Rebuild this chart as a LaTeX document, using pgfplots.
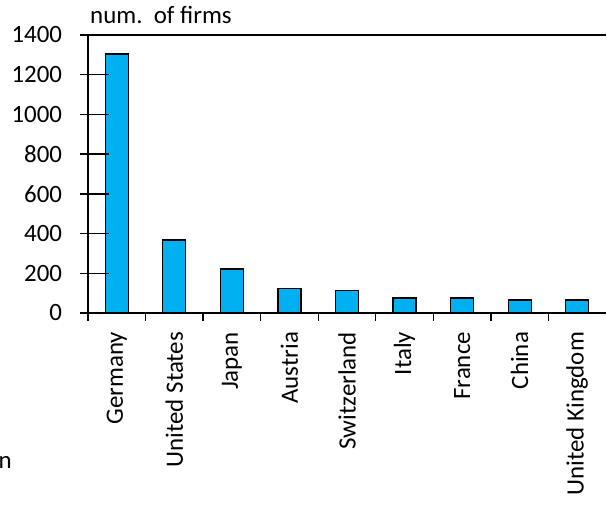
\documentclass[border=0pt]{standalone}
\usepackage{fontspec}
\setmainfont{Carlito}
\usepackage{pgfplots}
\pgfplotsset{compat=1.18}
\definecolor{barblue}{HTML}{00B0F0}
\begin{document}
\fontsize{25}{30}\selectfont
\begin{tikzpicture}
\begin{axis}[
  at={(88bp,192bp)}, anchor=south west,
  scale only axis,
  width=518bp, height=278bp,
  xmin=-0.5, xmax=8.5,
  ymin=0, ymax=1400,
  axis x line*=bottom, axis y line*=left,
  axis line style={line width=1.3bp, -},
  every tick/.style={line width=1.3bp, black},
  tick align=outside,
  major tick length=7.5bp,
  ytick={0,200,...,1400},
  % ticks sit between the categories; each name is moved half a category to the right
  xtick={-0.5,0.5,...,7.5},
  xticklabels={Germany,United States,Japan,Austria,Switzerland,Italy,France,China,United Kingdom},
  xticklabel style={rotate=90, anchor=east, xshift=-3bp, yshift=-28.78bp},
  yticklabel style={anchor=east, xshift=-10bp},
  /pgf/number format/assume math mode=true,
  /pgf/number format/1000 sep={},
  ticklabel style={font=\fontsize{25}{30}\selectfont},
  clip=false,
]
\addplot[ybar, bar width=0.4, fill=barblue, draw=black, line width=1.3bp] coordinates {
  (0,1305) (1,367) (2,221) (3,124) (4,112) (5,75) (6,75) (7,65) (8,65)
};
\draw[line width=1.3bp] (rel axis cs:0,1) -- (rel axis cs:1,1);
\pgfplotsinvokeforeach{0,200,...,1400}{
  \draw[line width=1.3bp] (axis cs:-0.5,#1) -- ++(-7.5bp,0);
}
\end{axis}
\node[anchor=base west, inner sep=0pt] at (90bp,481bp) {num.\ \ of firms};
\node[anchor=base west, inner sep=0pt] at (-1.5bp,37bp) {n};
\pgfresetboundingbox
\useasboundingbox (0,0) rectangle (607bp,505bp);
\end{tikzpicture}
\end{document}
